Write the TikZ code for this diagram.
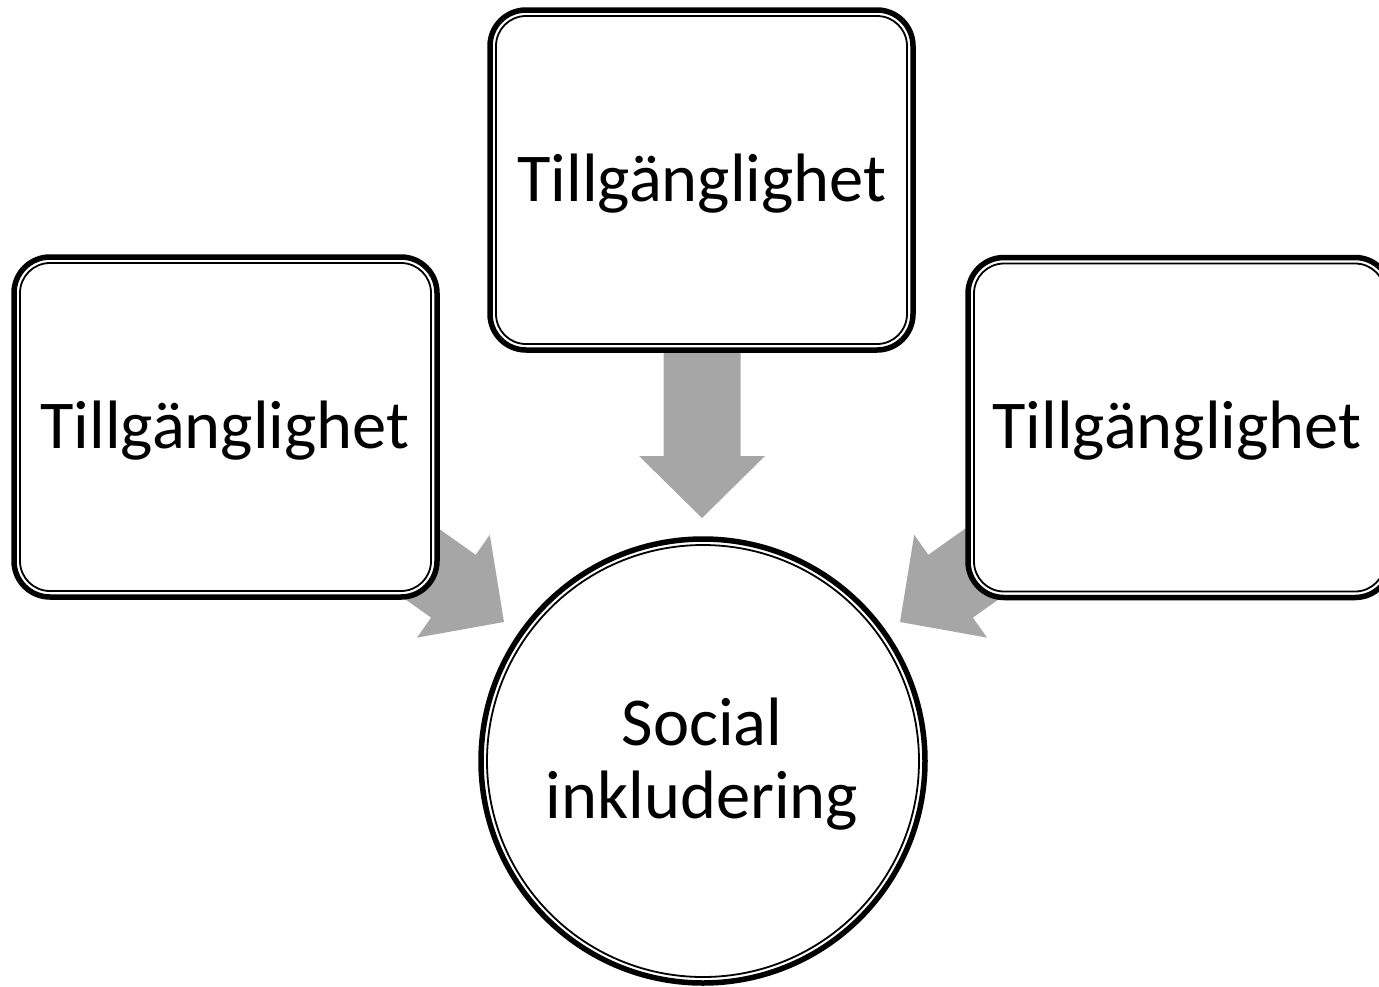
\documentclass[tikz,border=0pt]{standalone}
\usepackage{fontspec}
\setmainfont{Carlito}
\usetikzlibrary{calc}
\begin{document}
\begin{tikzpicture}[x=1pt,y=-1pt,
  boxshape/.style={draw=black, line width=5.5pt, fill=white, rounded corners=36pt,
    minimum width=423pt, minimum height=340pt, inner sep=0pt, outer sep=0pt},
  innerline/.style={draw=black, line width=1.8pt, rounded corners=30pt},
  circshape/.style={circle, draw=black, line width=5.5pt, fill=white, minimum size=444pt, inner sep=0pt, outer sep=0pt},
  label/.style={font=\fontsize{68.5}{73}\selectfont, anchor=base, inner sep=0pt, align=center},
  blockarrow/.style={fill=arrowgray, draw=none}]
\definecolor{arrowgray}{RGB}{166,166,166}
\useasboundingbox (0,0) rectangle (1379,986);
\clip (0,0) rectangle (1379,986);
% block arrows (behind the boxes)
\coordinate (tipL) at (504,622);
\coordinate (tipR) at (900,622);
\coordinate (tipT) at (702,518);
\fill[blockarrow] (tipL) -- (417,637.6) -- (431.1,617.6) -- (308.7,530.9) -- (353.3,468.1) -- (475.7,554.8) -- (489.8,534.8) -- cycle;
\fill[blockarrow] (tipR) -- (987,637.6) -- (972.9,617.6) -- (1095.3,530.9) -- (1050.7,468.1) -- (928.3,554.8) -- (914.2,534.8) -- cycle;
\fill[blockarrow] (tipT) -- (639,456) -- (663.5,456) -- (663.5,300) -- (740.5,300) -- (740.5,456) -- (765,456) -- cycle;
% boxes
\node[boxshape] (L) at (225.5,427) {};
\node[boxshape] (T) at (701.5,180) {};
\node[boxshape] (R) at (1179.5,427.5) {};
\foreach \b in {L,T,R}{
  \draw[innerline] ($(\b.south west)+(6,-6)$) rectangle ($(\b.north east)+(-6,6)$);
}
% circle
\node[circshape] (C) at (703,761) {};
\draw[black, line width=1.8pt] (C.center) circle[radius=216];
% texts
\node[label] (tL) at (225,448) {Tillgänglighet};
\node[label] (tT) at (702,201) {Tillgänglighet};
\node[label] (tR) at (1177,448) {Tillgänglighet};
\node[label] (tC1) at (702,745) {Social};
\node[label] (tC2) at (702,818) {inkludering};
\end{tikzpicture}
\end{document}
